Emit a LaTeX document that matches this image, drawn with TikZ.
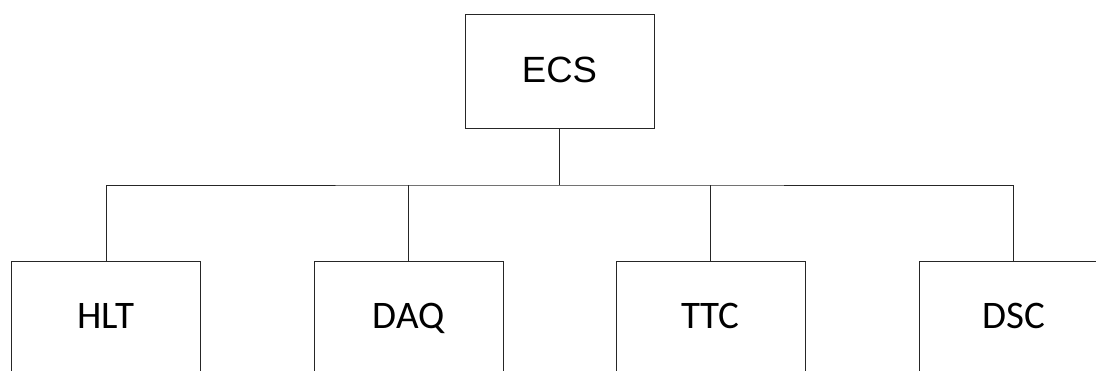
\documentclass[tikz,border=0pt]{standalone}
\usepackage{fontspec}
\newfontfamily\arialfont{Liberation Sans}
\newfontfamily\calibrifont{Carlito}
\begin{document}
\begin{tikzpicture}[x=1pt,y=-1pt,
  unitbox/.style={draw=black!85,line width=0.9pt,minimum width=189pt,minimum height=114pt,
    inner sep=0pt,anchor=center,fill=white},
  topbox/.style={unitbox,font=\arialfont\fontsize{36.5}{40}\selectfont,
    text height=26pt,text depth=3pt},
  subbox/.style={unitbox,font=\calibrifont\fontsize{39}{44}\selectfont,
    text height=25pt,text depth=4pt},
  link/.style={draw=black!85,line width=0.9pt}]
\useasboundingbox (0,0) rectangle (1096,370);
\clip (0,0) rectangle (1096,370);
% top-level controller
\node[topbox] (ecs) at (559.5,71) {ECS};
% subsystems
\node[subbox] (hlt) at (106,318) {HLT};
\node[subbox] (daq) at (408.5,318) {DAQ};
\node[subbox] (ttc) at (710.5,318) {TTC};
\node[subbox] (dsc) at (1013.5,318) {DSC};
% tree connectors
\coordinate (bus) at (559.5,185);
\draw[link] (ecs.south) -- (bus);
\draw[link] (hlt.north) |- (bus) -| (dsc.north);
\draw[link] (daq.north) -- (daq.north |- bus);
\draw[link] (ttc.north) -- (ttc.north |- bus);
\end{tikzpicture}
\end{document}
